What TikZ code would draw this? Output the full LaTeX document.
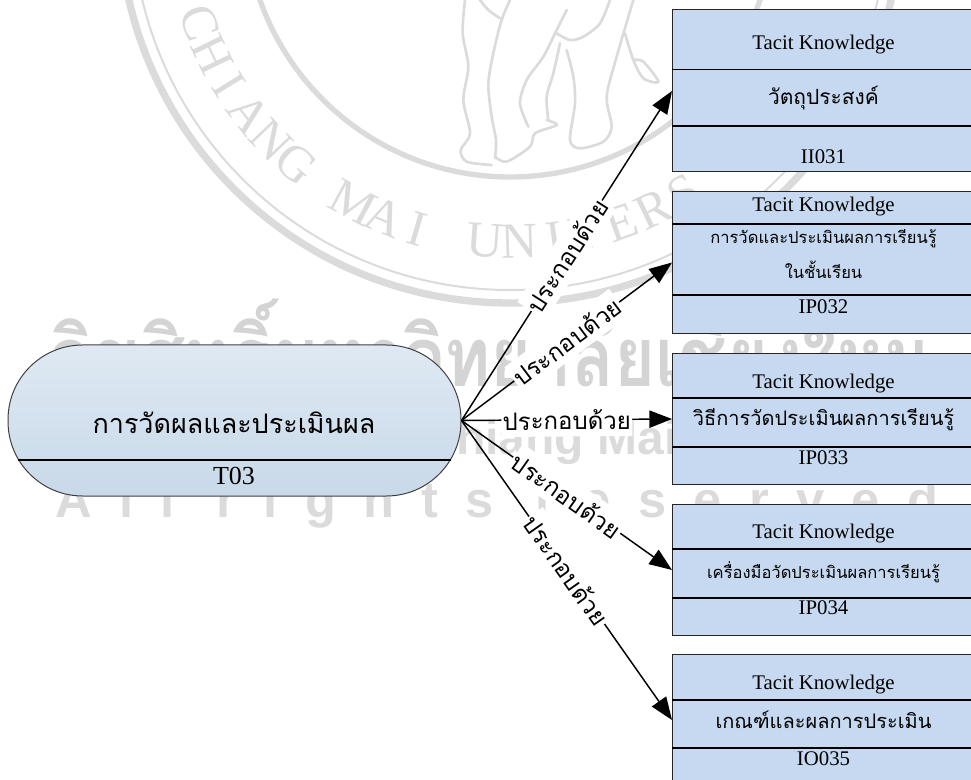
\documentclass[tikz,border=0pt]{standalone}
\usepackage{fontspec}
\setmainfont{Liberation Serif}
\newfontfamily\thaifont[Script=Thai]{Loma}
\newfontfamily\sealfont[LetterSpace=54]{Liberation Sans}
\newfontfamily\sansfont{Liberation Sans}
\usetikzlibrary{arrows.meta}
\definecolor{boxfill}{HTML}{C6D9F0}
\definecolor{pilltop}{HTML}{DFE9F3}
\definecolor{pillbot}{HTML}{C8D9E9}
\colorlet{seal}{black!14}
\tikzset{
  kbox/.style={draw=black!85, fill=boxfill, line width=0.75pt, minimum width=227.25pt, anchor=north west, inner sep=0pt},
  rule/.style={black, line width=1.1pt},
  linkline/.style={line width=1.1pt, -{Triangle[length=17pt,width=13pt]}},
  linklabel/.style={sloped, pos=.5, fill=white, inner xsep=1pt, inner ysep=5pt, font=\thaifont\fontsize{18}{18}\selectfont},
  lat/.style={font=\fontsize{15.6}{18}\selectfont, inner sep=0pt, text height=10pt, text depth=0pt},
  thainame/.style={font=\thaifont\fontsize{#1}{#1}\selectfont, inner sep=0pt},
  sealstroke/.style={seal, line width=2pt, line cap=round}
}
\begin{document}
\begin{tikzpicture}[x=0.75pt, y=-0.75pt]
  \useasboundingbox (0,0) rectangle (971,780);

  % Seal
  \draw[seal, line width=5.5pt] (510,-88) circle (391);
  \draw[seal, line width=1.5pt] (510,-88) circle (378);
  \draw[seal, line width=4pt] (510,-88) circle (265);
  \foreach \c [count=\i from 0] in {C,H,I,A,N,G,{},M,A,I,{},U,N,I,V,E,R,S}{
    \node[seal, font=\fontsize{38}{38}\selectfont, rotate={199.7+6*\i+90}] (wm\i) at ({510+330*cos(199.7+6*\i)}, {-88-330*sin(199.7+6*\i)}) {\c};
  }

  % Elephant legs
  \begin{scope}[shift={(420,0)}, x=0.25pt, y=-0.25pt]
    \draw[sealstroke] plot[smooth] coordinates {(135,0) (128,100) (145,200) (130,300) (150,400) (122,450) (140,485) (215,495)};
    \draw[sealstroke] plot[smooth] coordinates {(270,0) (245,60) (222,150) (205,250) (215,350) (228,420) (225,475)};
    \draw[sealstroke] plot[smooth] coordinates {(180,0) (205,30) (240,55)};
    \draw[sealstroke] plot[smooth] coordinates {(225,470) (260,485) (330,440) (345,400) (410,375) (380,360)};
    \draw[sealstroke] plot[smooth] coordinates {(440,30) (410,90) (370,170) (320,240) (300,310) (325,380)};
    \draw[sealstroke] plot[smooth] coordinates {(410,100) (450,120) (490,110) (540,70) (570,0)};
    \draw[sealstroke] plot[smooth] coordinates {(420,130) (400,220) (380,290) (385,360)};
    \draw[sealstroke] plot[smooth] coordinates {(440,150) (460,230) (465,310) (450,420) (480,445) (550,425) (575,380) (560,290) (590,170) (640,0)};
    \draw[sealstroke] plot[smooth] coordinates {(615,100) (640,180) (670,235) (715,245) (670,185) (640,180)};
  \end{scope}

  % Watermark rows
  \node[black!17, font=\thaifont\bfseries\fontsize{62}{62}\selectfont, xscale=.85, inner sep=0pt, anchor=base] (wmthai) at (490,387) {ลิขสิทธิ์มหาวิทยาลัยเชียงใหม่};
  \node[seal, font=\sansfont\bfseries\fontsize{36}{36}\selectfont, inner sep=0pt, anchor=base west] (wmcopy) at (112,455) {Copyright by Chiang Mai University};
  \node[seal, font=\sealfont\bfseries\fontsize{38}{38}\selectfont, inner sep=0pt, anchor=base] (wmrights) at (497,517) {All rights reserved};

  % Terminator
  \node[draw=black!75, line width=0.75pt, rounded corners=56pt, minimum width=339.75pt, minimum height=113.25pt, inner sep=0pt,
        top color=pilltop, bottom color=pillbot] (t03) at (234.5,420.5) {};
  \node[thainame=20.2] (t03name) at (234,423) {การวัดผลและประเมินผล};
  \node[lat, font=\fontsize{19.5}{20}\selectfont, text height=13pt] (t03code) at (234,476) {T03};
  \draw[rule] (18,460) -- (451,460);

  % Boxes
  \node[kbox, minimum height=121.5pt] (box1) at (672,9.5) {};
  \node[kbox, minimum height=106.5pt] (box2) at (672,191) {};
  \node[kbox, minimum height=98.25pt] (box3) at (672,353) {};
  \node[kbox, minimum height=98.25pt] (box4) at (672,504) {};
  \node[kbox, minimum height=98.25pt] (box5) at (672,654) {};

  \foreach \a/\b in {69.5/126, 224/295, 398/447, 549/598, 700/748}{
    \draw[rule] (672,\a) -- (971,\a);
    \draw[rule] (672,\b) -- (971,\b);
  }

  \foreach \n/\y in {box1/43, box2/205, box3/382, box4/532, box5/683}{
    \node[lat] (\n title) at (823.5,\y) {Tacit Knowledge};
  }
  \node[lat] (box1code) at (823.5,157) {II031};
  \node[lat] (box2code) at (823.5,307) {IP032};
  \node[lat] (box3code) at (823.5,458) {IP033};
  \node[lat] (box4code) at (823.5,608) {IP034};
  \node[lat] (box5code) at (823.5,759) {IO035};

  \node[thainame=15.7] (box1name) at (823.5,98) {วัตถุประสงค์};
  \node[thainame=12.4] (box2name) at (823.5,239) {การวัดและประเมินผลการเรียนรู้};
  \node[thainame=12.4] (box2sub) at (823.5,270) {ในชั้นเรียน};
  \node[thainame=15] (box3name) at (823.5,420) {วิธีการวัดประเมินผลการเรียนรู้};
  \node[thainame=12.4] (box4name) at (823.5,572) {เครื่องมือวัดประเมินผลการเรียนรู้};
  \node[thainame=15] (box5name) at (823.5,720) {เกณฑ์และผลการประเมิน};

  % Links
  \foreach \n in {box1,box2,box3,box4,box5}{
    \draw[linkline] (t03.east) -- node[linklabel] (label\n) {ประกอบด้วย} (\n.west);
  }
\end{tikzpicture}
\end{document}
